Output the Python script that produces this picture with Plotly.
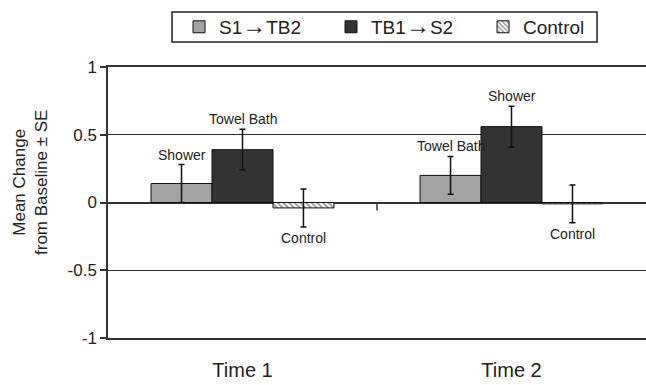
import plotly.graph_objects as go

times = ["Time 1", "Time 2"]
series_names = ["S1<span style='font-size:24px'>→</span>TB2",
                "TB1<span style='font-size:24px'>→</span>S2", "Control"]
s1tb2 = [0.14, 0.20]
tb1s2 = [0.39, 0.56]
control = [-0.04, -0.01]
s1tb2_se = [0.14, 0.14]
tb1s2_se = [0.15, 0.15]
control_se = [0.14, 0.14]
s1tb2_labels = ["Shower", "Towel Bath"]
tb1s2_labels = ["Towel Bath", "Shower"]
control_labels = ["Control", "Control"]
y_ticks = [-1, -0.5, 0, 0.5, 1]
y_ticktext = ["-1", "-0.5", "0", "0.5", "1"]

FONT = "Liberation Sans, Arial, sans-serif"
BARGAP = 0.32
LINE = "#333333"

fig = go.Figure()
err_style = dict(type="data", visible=True, color="#111111", thickness=1.5, width=3)

fig.add_trace(go.Bar(
    name=series_names[0], x=times, y=s1tb2,
    marker=dict(color="#a3a3a3", line=dict(color="#111111", width=1)),
    error_y=dict(array=s1tb2_se, **err_style)))
fig.add_trace(go.Bar(
    name=series_names[1], x=times, y=tb1s2,
    marker=dict(color="#333333", line=dict(color="#111111", width=1)),
    error_y=dict(array=tb1s2_se, **err_style)))
fig.add_trace(go.Bar(
    name=series_names[2], x=times, y=control,
    marker=dict(color="white", line=dict(color="#111111", width=1),
                pattern=dict(shape="\\", fgcolor="#111111", bgcolor="white",
                             size=4, solidity=0.4)),
    error_y=dict(array=control_se, **err_style)))

# bar labels
w = (1 - BARGAP) / 3
series = [(s1tb2, s1tb2_se, s1tb2_labels), (tb1s2, tb1s2_se, tb1s2_labels),
          (control, control_se, control_labels)]
for k, (vals, ses, labs) in enumerate(series):
    for i in range(len(times)):
        xpos = i + (k - 1) * w
        if vals[i] >= 0:
            fig.add_annotation(x=xpos, y=vals[i] + ses[i], text=labs[i],
                               showarrow=False, yanchor="bottom", yshift=0,
                               font=dict(family=FONT, size=14, color="#222"))
        else:
            fig.add_annotation(x=xpos, y=vals[i] - ses[i], text=labs[i],
                               showarrow=False, yanchor="top", yshift=-1,
                               font=dict(family=FONT, size=14, color="#222"))

# y-axis title
fig.add_annotation(xref="paper", yref="paper", x=0, y=0.572, xshift=-77,
                   text="Mean Change<br>from Baseline ± SE", textangle=-90,
                   showarrow=False, xanchor="center", yanchor="middle",
                   font=dict(family=FONT, size=17, color="#222"))

# category divider tick on the zero line
fig.add_shape(type="line", xref="x", yref="y", x0=0.5, x1=0.5,
              ysizemode="pixel", yanchor=0, y0=0, y1=-8,
              line=dict(color=LINE, width=1.5))

# legend frame
fig.add_shape(type="rect", xref="paper", yref="paper",
              x0=0.119, x1=0.909, y0=1.092, y1=1.203,
              line=dict(color="#222", width=1.5), fillcolor="rgba(0,0,0,0)")

fig.update_layout(
    width=646, height=385,
    margin=dict(l=108, r=0, t=67, b=47, autoexpand=False),
    paper_bgcolor="white", plot_bgcolor="white",
    barmode="group", bargap=BARGAP, bargroupgap=0,
    font=dict(family=FONT, color="#222"),
    showlegend=True,
    legend=dict(orientation="h", x=0.132, xanchor="left", y=1.218, yanchor="top",
                borderwidth=0, bgcolor="rgba(0,0,0,0)",
                font=dict(family=FONT, size=19, color="#222"),
                entrywidth=107, itemwidth=30, traceorder="normal"),
    xaxis=dict(type="category", range=[-0.5, 1.5], showline=True, mirror=True,
               linecolor=LINE, linewidth=1.5, showgrid=False, ticks="",
               tickfont=dict(family=FONT, size=20, color="#222"),
               ticklabelstandoff=13, fixedrange=True),
    yaxis=dict(range=[-1, 1], tickvals=y_ticks, ticktext=y_ticktext,
               showline=True, linecolor=LINE, linewidth=1.5,
               showgrid=True, gridcolor=LINE, gridwidth=1.2,
               zeroline=True, zerolinecolor=LINE, zerolinewidth=1.5,
               ticks="outside", ticklen=6, tickcolor=LINE, tickwidth=1.5,
               tickfont=dict(family=FONT, size=17, color="#222"), fixedrange=True),
)

fig.write_html("out.html", config={"displayModeBar": False},
               post_script="document.body.style.margin='0';")
